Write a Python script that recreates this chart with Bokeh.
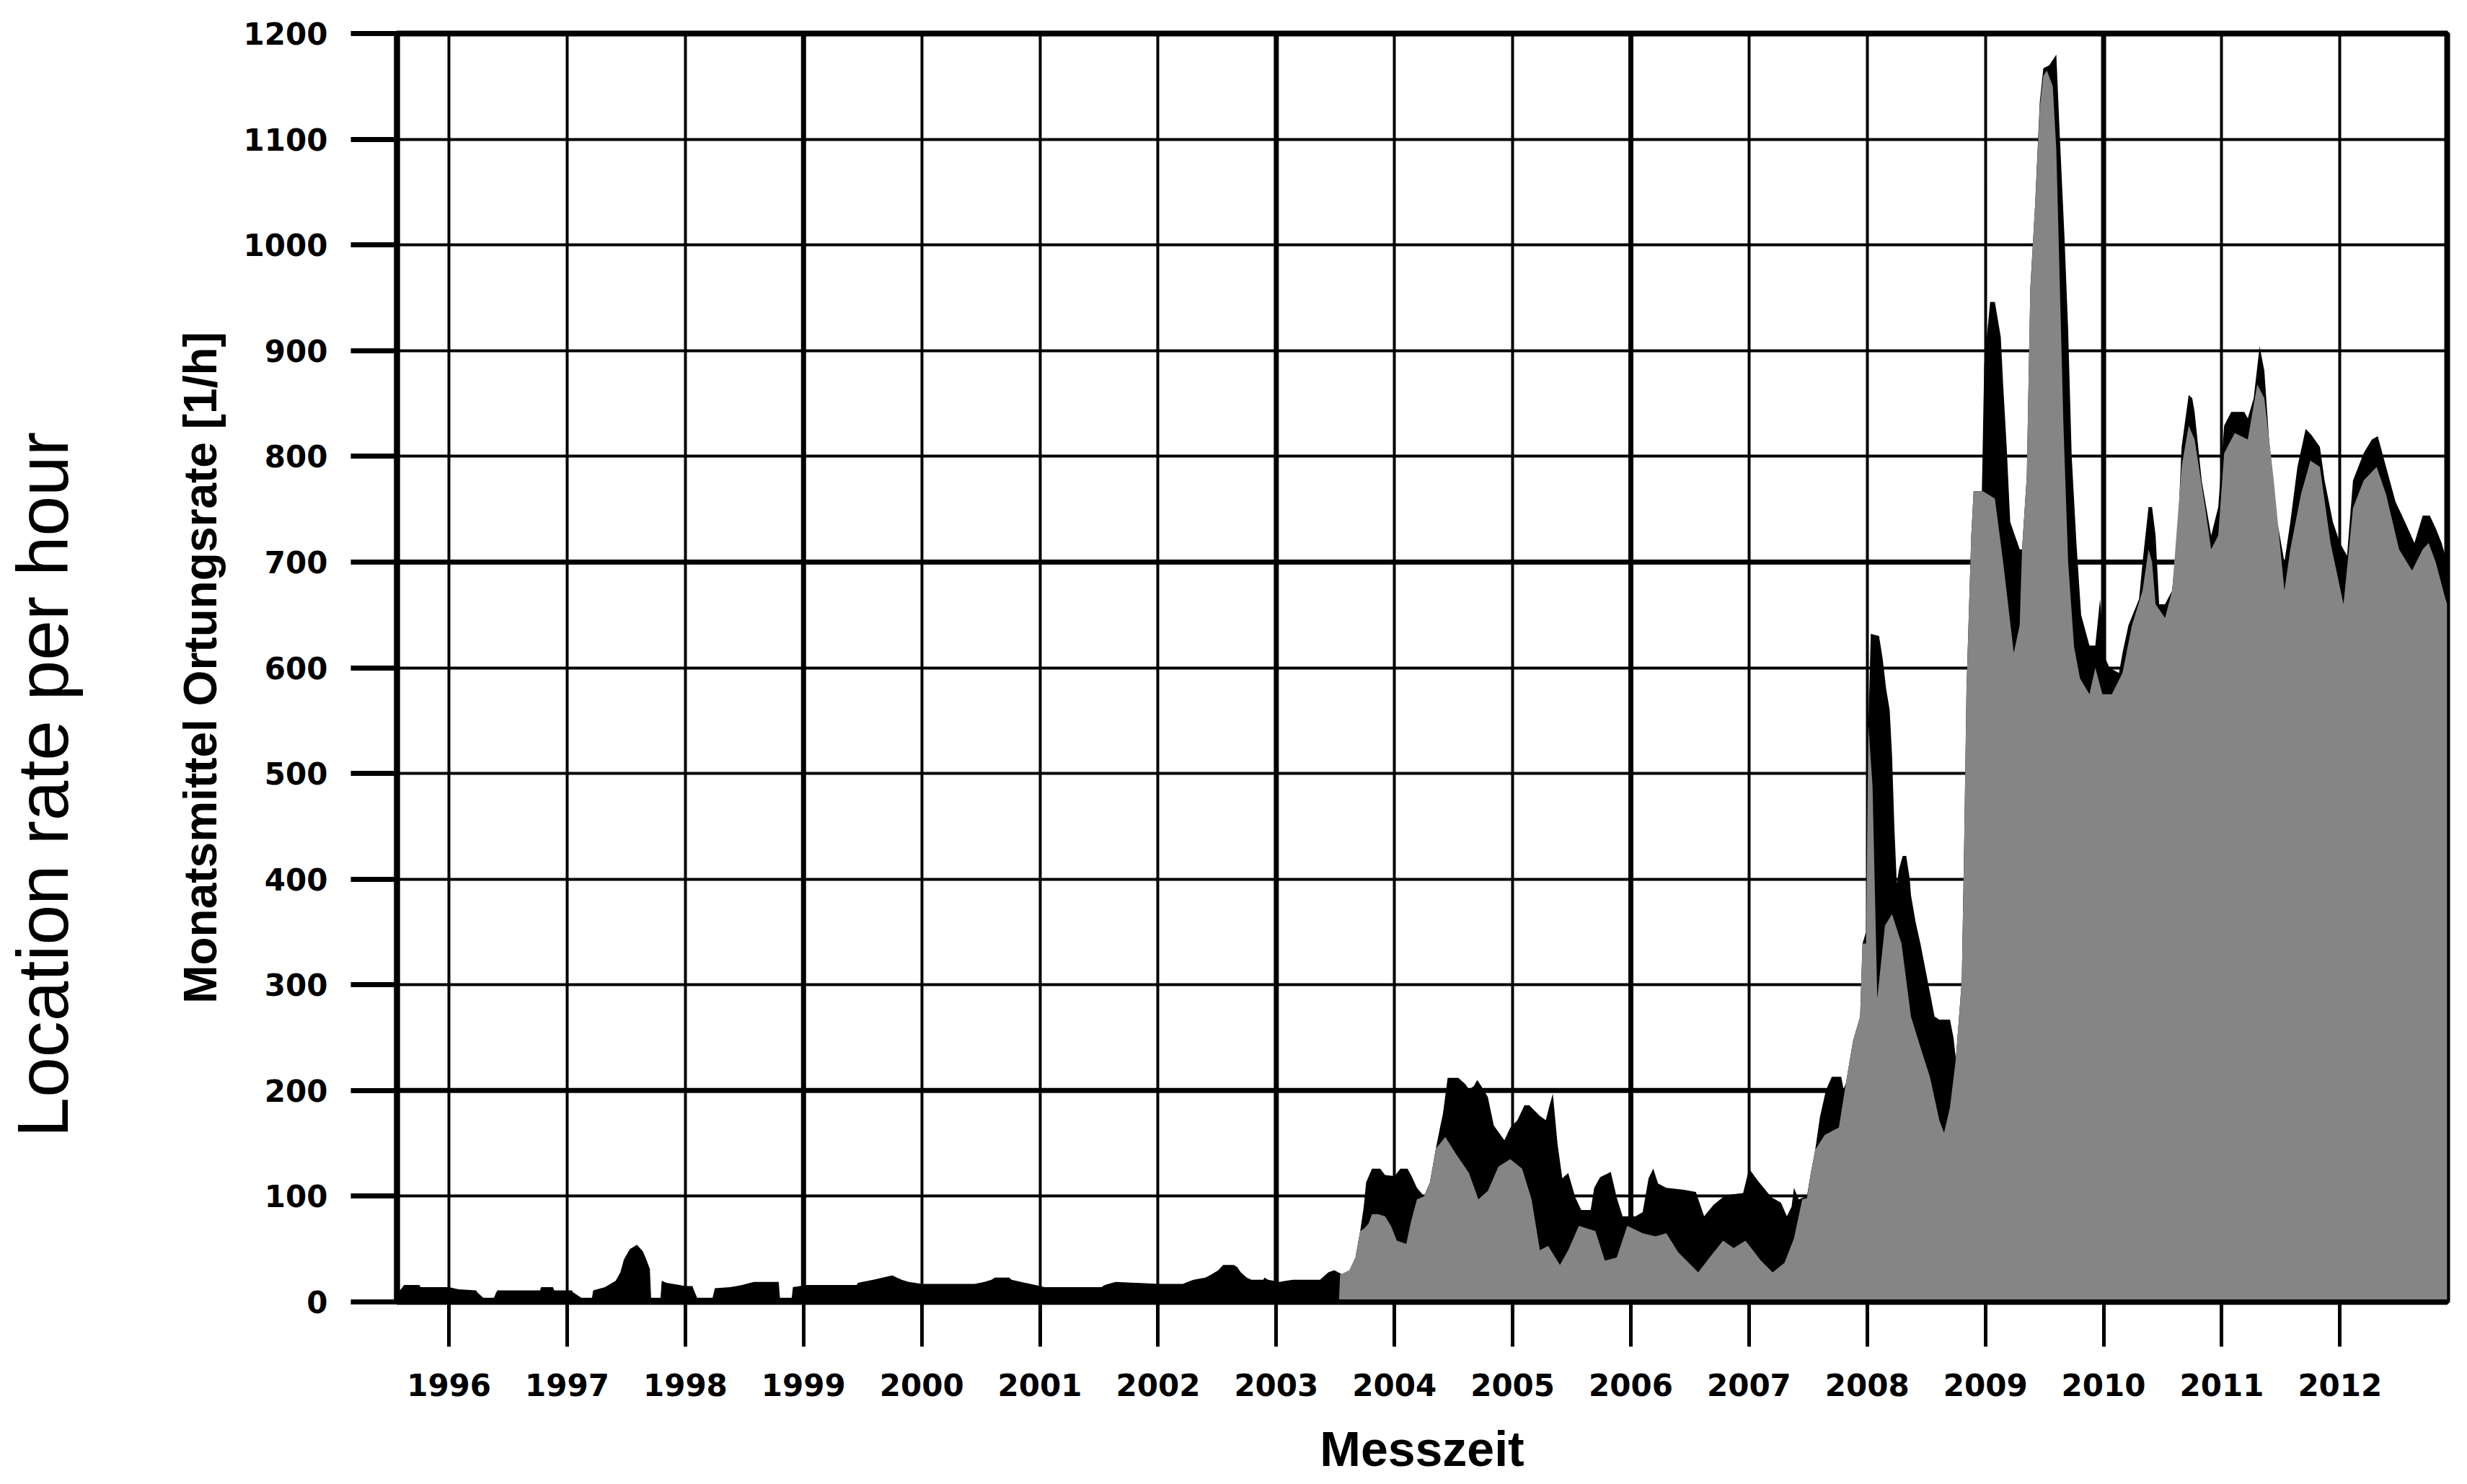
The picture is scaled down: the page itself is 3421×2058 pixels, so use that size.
import math
from bokeh.plotting import figure
from bokeh.layouts import row
from bokeh.models import FixedTicker, Span, Label, Range1d, PrintfTickFormatter
from bokeh.embed import file_html
from bokeh.resources import INLINE

# ---------------- data ----------------
year_ticks = list(range(1996, 2013))
rate_ticks = list(range(0, 1300, 100))

# upper series (black envelope), monthly mean location rate [1/h]
black_years = [1995.56, 1995.58, 1995.62, 1995.75, 1995.76, 1996.00, 1996.08, 1996.23, 1996.24, 1996.29,
               1996.38, 1996.40, 1996.41, 1996.77, 1996.78, 1996.88, 1996.89, 1997.04, 1997.05, 1997.12,
               1997.21, 1997.22, 1997.32, 1997.41, 1997.45, 1997.48, 1997.53, 1997.59, 1997.64, 1997.67,
               1997.70, 1997.71, 1997.79, 1997.80, 1997.84, 1997.95, 1998.00, 1998.06, 1998.08, 1998.10,
               1998.23, 1998.25, 1998.38, 1998.48, 1998.58, 1998.79, 1998.80, 1998.90, 1998.91, 1999.03,
               1999.45, 1999.46, 1999.59, 1999.67, 1999.75, 1999.79, 1999.83, 1999.89, 2000.00, 2000.45,
               2000.53, 2000.59, 2000.62, 2000.74, 2000.76, 2000.84, 2000.96, 2001.04, 2001.52, 2001.55,
               2001.64, 2002.01, 2002.21, 2002.25, 2002.30, 2002.40, 2002.45, 2002.51, 2002.55, 2002.64,
               2002.67, 2002.70, 2002.75, 2002.79, 2002.89, 2002.90, 2002.93, 2003.03, 2003.14, 2003.37,
               2003.44, 2003.49, 2003.56, 2003.62, 2003.67, 2003.71, 2003.74, 2003.76, 2003.81, 2003.88,
               2003.92, 2004.00, 2004.05, 2004.11, 2004.14, 2004.19, 2004.25, 2004.30, 2004.35, 2004.38,
               2004.41, 2004.45, 2004.54, 2004.60, 2004.63, 2004.67, 2004.70, 2004.73, 2004.79, 2004.84,
               2004.93, 2004.98, 2005.04, 2005.10, 2005.14, 2005.23, 2005.28, 2005.31, 2005.34, 2005.38,
               2005.42, 2005.47, 2005.53, 2005.58, 2005.66, 2005.69, 2005.74, 2005.83, 2005.88, 2005.93,
               2006.04, 2006.10, 2006.15, 2006.19, 2006.23, 2006.30, 2006.45, 2006.55, 2006.62, 2006.70,
               2006.80, 2006.95, 2007.00, 2007.08, 2007.19, 2007.27, 2007.32, 2007.36, 2007.38, 2007.42,
               2007.49, 2007.52, 2007.56, 2007.60, 2007.65, 2007.70, 2007.78, 2007.80, 2007.82, 2007.88,
               2007.94, 2007.96, 2007.99, 2008.01, 2008.03, 2008.10, 2008.13, 2008.16, 2008.19, 2008.21,
               2008.23, 2008.25, 2008.27, 2008.30, 2008.33, 2008.36, 2008.37, 2008.41, 2008.45, 2008.49,
               2008.53, 2008.57, 2008.61, 2008.70, 2008.73, 2008.75, 2008.80, 2008.82, 2008.84, 2008.88,
               2008.90, 2008.97, 2008.99, 2009.04, 2009.08, 2009.13, 2009.15, 2009.18, 2009.21, 2009.29,
               2009.31, 2009.35, 2009.38, 2009.42, 2009.46, 2009.49, 2009.54, 2009.60, 2009.63, 2009.67,
               2009.70, 2009.73, 2009.77, 2009.81, 2009.88, 2009.93, 2009.97, 2010.01, 2010.05, 2010.13,
               2010.16, 2010.21, 2010.30, 2010.33, 2010.38, 2010.41, 2010.44, 2010.47, 2010.52, 2010.58,
               2010.63, 2010.66, 2010.72, 2010.75, 2010.77, 2010.83, 2010.91, 2010.97, 2011.02, 2011.08,
               2011.19, 2011.22, 2011.27, 2011.32, 2011.36, 2011.40, 2011.47, 2011.53, 2011.58, 2011.64,
               2011.71, 2011.76, 2011.83, 2011.87, 2011.94, 2012.00, 2012.06, 2012.11, 2012.20, 2012.27,
               2012.32, 2012.39, 2012.47, 2012.55, 2012.63, 2012.70, 2012.76, 2012.81, 2012.86, 2012.907]
black_vals = [10, 10, 16, 16, 14, 14, 12, 11, 9, 4,
              4, 9, 11, 11, 14, 14, 11, 11, 9, 4,
              4, 11, 14, 20, 28, 40, 50, 54, 48, 40,
              31, 4, 4, 20, 18, 16, 15, 15, 9, 4,
              4, 13, 14, 16, 19, 19, 4, 4, 14, 16,
              16, 18, 21, 23, 25, 23, 21, 19, 17, 17,
              19, 21, 23, 23, 21, 19, 16, 14, 14, 16,
              19, 17, 17, 19, 21, 23, 26, 30, 35, 35,
              33, 28, 23, 21, 21, 23, 21, 19, 21, 21,
              28, 30, 26, 30, 42, 67, 90, 113, 126, 126,
              120, 119, 126, 126, 120, 108, 100, 113, 145, 162,
              178, 212, 212, 206, 201, 204, 210, 205, 194, 167,
              153, 165, 172, 186, 186, 176, 172, 185, 197, 149,
              117, 122, 99, 87, 87, 108, 118, 123, 99, 81,
              81, 85, 117, 126, 112, 108, 106, 104, 81, 92,
              101, 103, 126, 114, 99, 94, 81, 90, 108, 97,
              100, 120, 144, 175, 200, 213, 213, 201, 207, 247,
              270, 339, 350, 546, 632, 630, 609, 580, 560, 517,
              448, 396, 410, 422, 422, 400, 385, 359, 339, 316,
              293, 270, 267, 267, 250, 230, 304, 431, 580, 724,
              767, 767, 887, 946, 946, 913, 868, 809, 738, 712,
              712, 781, 959, 1037, 1135, 1167, 1170, 1180, 1102, 1005,
              920, 800, 718, 650, 621, 621, 665, 610, 600, 595,
              614, 640, 665, 700, 752, 752, 725, 660, 660, 673,
              732, 809, 858, 855, 842, 777, 725, 752, 829, 842,
              842, 836, 855, 904, 881, 816, 738, 700, 738, 790,
              826, 820, 809, 777, 738, 718, 706, 777, 803, 816,
              819, 790, 757, 738, 718, 744, 744, 732, 718, 700]

# lower series (grey, dithered in the original)
gray_years = [2003.53, 2003.54, 2003.62, 2003.67, 2003.71, 2003.74, 2003.78, 2003.81, 2003.86, 2003.92,
              2003.97, 2004.02, 2004.10, 2004.14, 2004.19, 2004.25, 2004.30, 2004.35, 2004.43, 2004.52,
              2004.63, 2004.71, 2004.79, 2004.88, 2004.98, 2005.08, 2005.16, 2005.23, 2005.30, 2005.40,
              2005.47, 2005.56, 2005.70, 2005.78, 2005.88, 2005.97, 2006.10, 2006.21, 2006.30, 2006.40,
              2006.57, 2006.68, 2006.78, 2006.87, 2006.97, 2007.10, 2007.20, 2007.30, 2007.38, 2007.45,
              2007.49, 2007.52, 2007.56, 2007.64, 2007.76, 2007.82, 2007.88, 2007.94, 2007.96, 2007.99,
              2008.01, 2008.045, 2008.085, 2008.15, 2008.21, 2008.29, 2008.37, 2008.45, 2008.53, 2008.61,
              2008.65, 2008.70, 2008.75, 2008.80, 2008.82, 2008.84, 2008.88, 2008.90, 2008.98, 2009.08,
              2009.15, 2009.24, 2009.29, 2009.31, 2009.35, 2009.38, 2009.42, 2009.46, 2009.49, 2009.52,
              2009.57, 2009.60, 2009.63, 2009.66, 2009.70, 2009.75, 2009.80, 2009.88, 2009.93, 2009.99,
              2010.07, 2010.16, 2010.24, 2010.33, 2010.38, 2010.41, 2010.44, 2010.52, 2010.58, 2010.66,
              2010.72, 2010.77, 2010.86, 2010.91, 2010.97, 2011.02, 2011.11, 2011.22, 2011.30, 2011.36,
              2011.44, 2011.53, 2011.58, 2011.67, 2011.75, 2011.83, 2011.92, 2012.03, 2012.11, 2012.20,
              2012.31, 2012.39, 2012.50, 2012.61, 2012.70, 2012.75, 2012.81, 2012.89, 2012.907]
gray_vals = [0, 26, 30, 42, 67, 69, 74, 83, 83, 81,
             72, 58, 55, 76, 97, 100, 113, 145, 156, 140,
             122, 97, 105, 128, 135, 126, 97, 49, 53, 35,
             49, 72, 67, 39, 42, 72, 65, 62, 65, 47,
             28, 44, 58, 51, 58, 39, 28, 37, 60, 97,
             98, 120, 144, 158, 165, 207, 247, 270, 339, 339,
             546, 488, 287, 356, 367, 339, 270, 241, 213, 172,
             160, 184, 230, 304, 431, 580, 724, 767, 767, 760,
             700, 614, 640, 712, 781, 959, 1037, 1130, 1160, 1165,
             1150, 1090, 960, 830, 700, 620, 590, 575, 600, 575,
             575, 595, 640, 673, 712, 700, 660, 647, 673, 790,
             829, 816, 751, 712, 725, 803, 822, 816, 868, 855,
             777, 673, 712, 764, 796, 790, 718, 660, 751, 777,
             790, 764, 712, 692, 712, 718, 700, 666, 660]

thick_year_lines = [1999, 2003, 2006, 2010]
thick_rate_lines = [200, 700]

# ---------------- layout constants ----------------
TITLE_FONT = "Liberation Sans"
TICK_FONT = "DejaVu Sans"
X0, X1 = 1995.56, 2012.907
H = 2050
CAP_W = 130          # width of the strip carrying the outer English caption
TOTAL_W = 3405

# ---------------- caption strip ----------------
cap = figure(width=CAP_W, height=H, x_range=Range1d(0, CAP_W), y_range=Range1d(0, H),
             output_backend="svg", toolbar_location=None,
             x_axis_location=None, y_axis_location=None,
             min_border_left=0, min_border_right=0, min_border_top=0, min_border_bottom=0)
cap.outline_line_color = None
cap.background_fill_color = "white"
cap.border_fill_color = "white"
cap.xgrid.visible = False
cap.ygrid.visible = False
cap.add_layout(Label(x=58, y=836, text="Location rate per hour",
                     angle=math.pi / 2, text_align="center", text_baseline="middle",
                     text_font=TITLE_FONT, text_font_style="normal", text_font_size="100px",
                     text_color="black"))

# ---------------- main chart ----------------
p = figure(width=TOTAL_W - CAP_W, height=H,
           x_range=Range1d(X0, X1), y_range=Range1d(0, 1200),
           output_backend="svg", toolbar_location=None,
           min_border_left=550 - CAP_W, min_border_right=12, min_border_top=46, min_border_bottom=245)
p.background_fill_color = "white"
p.border_fill_color = "white"
p.outline_line_color = "black"
p.outline_line_width = 8

# grid
p.xgrid.ticker = FixedTicker(ticks=year_ticks)
p.ygrid.ticker = FixedTicker(ticks=rate_ticks)
for g in (p.xgrid, p.ygrid):
    g.grid_line_color = "black"
    g.grid_line_width = 4
    g.grid_line_alpha = 1.0
for xv in thick_year_lines:
    p.add_layout(Span(location=xv, dimension="height", line_color="black", line_width=7, level="underlay"))
for yv in thick_rate_lines:
    p.add_layout(Span(location=yv, dimension="width", line_color="black", line_width=7, level="underlay"))

# areas
p.varea(x=black_years, y1=0, y2=black_vals, fill_color="black")
p.varea(x=gray_years, y1=0, y2=gray_vals, fill_color="#858585")

# x axis
xa = p.xaxis[0]
xa.ticker = FixedTicker(ticks=year_ticks)
xa.formatter = PrintfTickFormatter(format="%d")
xa.major_tick_out = 62
xa.major_tick_in = 0
xa.major_tick_line_width = 5
xa.major_tick_line_color = "black"
xa.minor_tick_line_color = None
xa.axis_line_width = 7
xa.axis_line_color = "black"
xa.major_label_text_font = TICK_FONT
xa.major_label_text_font_style = "bold"
xa.major_label_text_font_size = "42px"
xa.major_label_text_color = "black"
xa.major_label_standoff = 37
xa.axis_label = "Messzeit"
xa.axis_label_text_font = TITLE_FONT
xa.axis_label_text_font_style = "bold"
xa.axis_label_text_font_size = "68px"
xa.axis_label_text_color = "black"
xa.axis_label_standoff = 32

# y axis
ya = p.yaxis[0]
ya.ticker = FixedTicker(ticks=rate_ticks)
ya.major_tick_out = 64
ya.major_tick_in = 0
ya.major_tick_line_width = 7
ya.major_tick_line_color = "black"
ya.minor_tick_line_color = None
ya.axis_line_width = 8
ya.axis_line_color = "black"
ya.major_label_text_font = TICK_FONT
ya.major_label_text_font_style = "bold"
ya.major_label_text_font_size = "42px"
ya.major_label_text_color = "black"
ya.major_label_standoff = 32
ya.axis_label = "Monatsmittel Ortungsrate [1/h]"
ya.axis_label_text_font = TITLE_FONT
ya.axis_label_text_font_style = "bold"
ya.axis_label_text_font_size = "64px"
ya.axis_label_text_color = "black"
ya.axis_label_standoff = 21

layout = row(cap, p, spacing=0)
open("out.html", "w").write(file_html(layout, INLINE))
